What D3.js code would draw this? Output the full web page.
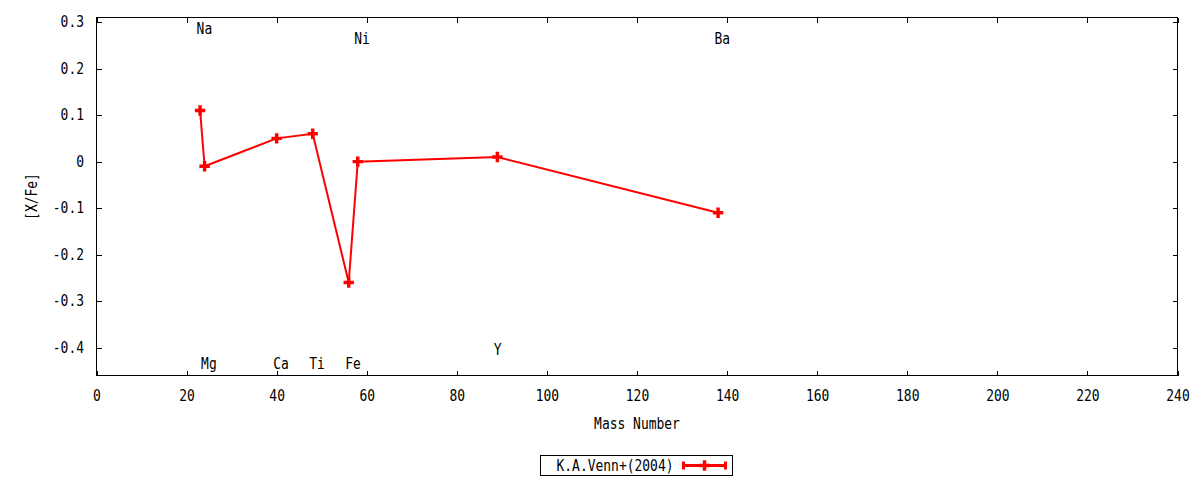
<!DOCTYPE html>
<html>
<head>
<meta charset="utf-8">
<script src="https://cdn.jsdelivr.net/npm/d3@7"></script>
<style>
  body { margin: 0; background: #fff; }
  svg { display: block; font-family: 'DejaVu Sans Mono', monospace; font-size: 15px; }
  .axis path { display: none; }
  .axis line { stroke: #000; shape-rendering: crispEdges; }
  .axis text { fill: #000; }
</style>
</head>
<body>
<div id="chart-container"></div>
<script>
// Abundance ratios vs mass number
const elements = ['Na', 'Mg', 'Ca', 'Ti', 'Fe', 'Ni', 'Y', 'Ba'];
const massNumbers = [23, 24, 40, 48, 56, 58, 89, 138];
const xFe = [0.11, -0.01, 0.05, 0.06, -0.26, 0.00, 0.01, -0.11];
// where each element name sits on the [X/Fe] axis
const labelY = [0.285, -0.435, -0.435, -0.435, -0.435, 0.265, -0.405, 0.265];

const xTicks = [0, 20, 40, 60, 80, 100, 120, 140, 160, 180, 200, 220, 240];
const yTicks = [-0.4, -0.3, -0.2, -0.1, 0, 0.1, 0.2, 0.3];
const seriesName = 'K.A.Venn+(2004)';

const WIDTH = 1200, HEIGHT = 480;
const FONT = 15;
const CHAR_W = 7.8; // the gnuplot font is a narrow monospace
const margin = { top: 17.5, right: 22.5, bottom: 104.5, left: 96.5 };
const innerW = WIDTH - margin.left - margin.right;
const innerH = HEIGHT - margin.top - margin.bottom;
const RED = '#ff0000';

const svg = d3.select('#chart-container').append('svg')
    .attr('width', WIDTH)
    .attr('height', HEIGHT);
const g = svg.append('g')
    .attr('transform', `translate(${margin.left},${margin.top})`);

const x = d3.scaleLinear().domain([0, 240]).range([0, innerW]);
const y = d3.scaleLinear().domain([-0.46, 0.31]).range([innerH, 0]);

const yFormat = d => d === 0 ? '0' : d.toFixed(1);

// ticks point inward on all four sides, gnuplot style
g.append('g').attr('class', 'axis')
    .attr('transform', `translate(0,${innerH})`)
    .call(d3.axisBottom(x).tickValues(xTicks).tickSizeInner(-5).tickSizeOuter(0).tickPadding(14.5));
g.append('g').attr('class', 'axis')
    .call(d3.axisTop(x).tickValues(xTicks).tickSizeInner(-5).tickSizeOuter(0).tickFormat(''));
g.append('g').attr('class', 'axis')
    .call(d3.axisLeft(y).tickValues(yTicks).tickSizeInner(-5).tickSizeOuter(0)
        .tickPadding(12.5).tickFormat(yFormat));
g.append('g').attr('class', 'axis')
    .attr('transform', `translate(${innerW},0)`)
    .call(d3.axisRight(y).tickValues(yTicks).tickSizeInner(-5).tickSizeOuter(0).tickFormat(''));

// frame
g.append('rect')
    .attr('width', innerW)
    .attr('height', innerH)
    .attr('fill', 'none')
    .attr('stroke', '#000')
    .attr('shape-rendering', 'crispEdges');

// axis titles
svg.append('text')
    .attr('x', margin.left + innerW / 2)
    .attr('y', 424)
    .attr('dy', '0.35em')
    .attr('text-anchor', 'middle')
    .text('Mass Number');
svg.append('text')
    .attr('transform', `translate(32,${margin.top + innerH / 2}) rotate(-90)`)
    .attr('dy', '0.35em')
    .attr('text-anchor', 'middle')
    .text('[X/Fe]');

// element labels
g.selectAll('.elem-label')
    .data(elements)
    .enter()
    .append('text')
        .attr('class', 'elem-label')
        .attr('x', (d, i) => x(massNumbers[i]))
        .attr('y', (d, i) => y(labelY[i]))
        .attr('dx', -3.5)
        .attr('dy', '0.35em')
        .text(d => d);

// the series
const points = massNumbers.map((m, i) => [m, xFe[i]]);
g.append('path')
    .datum(points)
    .attr('fill', 'none')
    .attr('stroke', RED)
    .attr('stroke-width', 2)
    .attr('d', d3.line().x(d => x(d[0])).y(d => y(d[1])));

const plus = d3.symbol().type(d3.symbolCross).size(60);
g.selectAll('.pt')
    .data(points)
    .enter()
    .append('path')
        .attr('class', 'pt')
        .attr('transform', d => `translate(${x(d[0])},${y(d[1])})`)
        .attr('d', plus)
        .attr('fill', RED);

// legend
const legend = svg.append('g').attr('transform', 'translate(540.5,455.5)');
legend.append('rect')
    .attr('width', 192)
    .attr('height', 20)
    .attr('fill', 'none')
    .attr('stroke', '#000')
    .attr('shape-rendering', 'crispEdges');
legend.append('text')
    .attr('x', 133)
    .attr('y', 10)
    .attr('dy', '0.35em')
    .attr('text-anchor', 'end')
    .text(seriesName);
legend.append('line')
    .attr('x1', 143).attr('x2', 185)
    .attr('y1', 10).attr('y2', 10)
    .attr('stroke', RED)
    .attr('stroke-width', 3);
[143, 185].forEach(cx => {
    legend.append('line')
        .attr('x1', cx).attr('x2', cx)
        .attr('y1', 6).attr('y2', 14)
        .attr('stroke', RED)
        .attr('stroke-width', 3);
});
legend.append('path')
    .attr('transform', 'translate(164,10)')
    .attr('d', plus)
    .attr('fill', RED);

// squeeze every label to the narrow monospace advance
svg.selectAll('text').each(function() {
    const t = d3.select(this);
    const s = t.text();
    t.attr('font-size', FONT).attr('font-family', 'DejaVu Sans Mono');
    if (s) t.attr('textLength', s.length * CHAR_W).attr('lengthAdjust', 'spacingAndGlyphs');
});
</script>
</body>
</html>
